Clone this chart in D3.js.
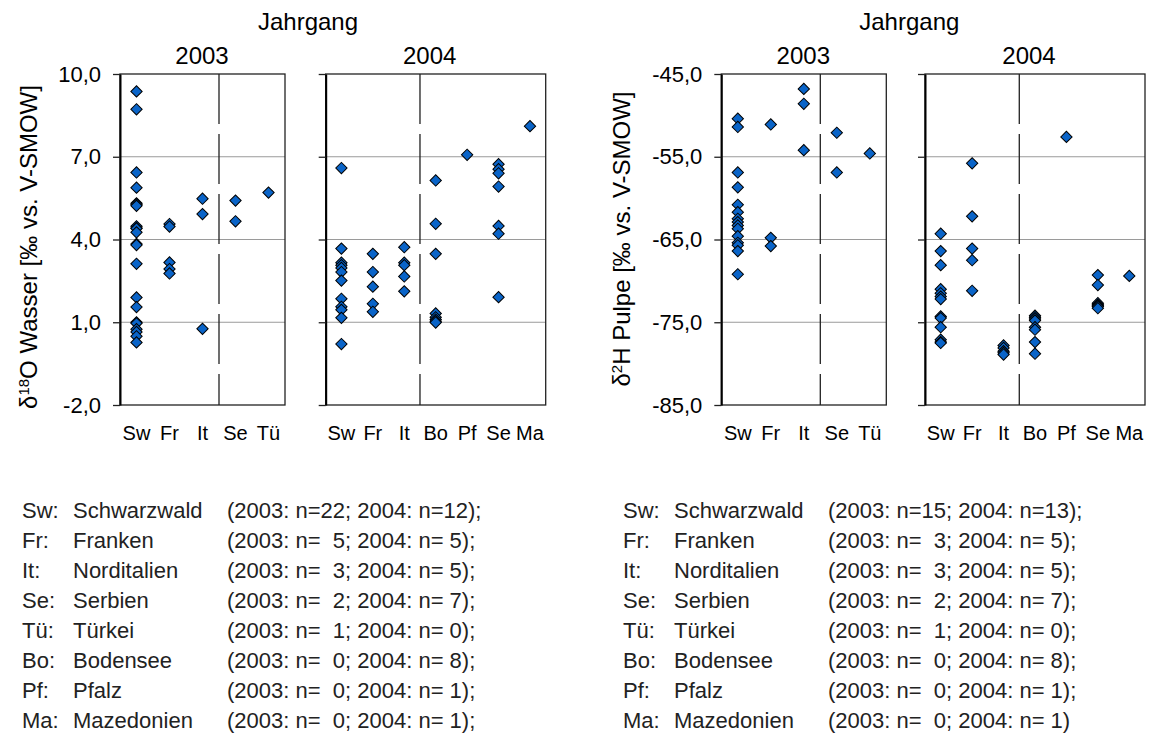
<!DOCTYPE html>
<html>
<head>
<meta charset="utf-8">
<script src="https://cdn.jsdelivr.net/npm/d3@7"></script>
<style>
	body { margin: 0; background: #fff; }
	text { font-family: "Liberation Sans", Arial, sans-serif; fill: #000; }
	.legend text { white-space: pre; fill: #222; font-size: 22px; }
</style>
</head>
<body>
<svg id="chart" width="1157" height="740"></svg>
<script>
// categories per vintage
const cats2003 = ["Sw", "Fr", "It", "Se", "Tü"];
const cats2004 = ["Sw", "Fr", "It", "Bo", "Pf", "Se", "Ma"];

// d18O Wasser, one list per category (order as in cats)
const wasser2003 = [
	[9.37, 8.72, 6.43, 5.88, 5.31, 5.27, 5.22, 4.48, 4.42, 4.40, 4.26, 3.84, 3.80, 3.12, 1.90, 1.55, 1.00, 0.96, 0.75, 0.65, 0.49, 0.27],
	[4.56, 4.47, 3.17, 2.93, 2.77],
	[5.48, 4.92, 0.76],
	[5.41, 4.66],
	[5.70]
];
const wasser2004 = [
	[6.59, 3.67, 3.16, 3.07, 2.97, 2.82, 2.51, 1.85, 1.56, 1.45, 1.16, 0.21],
	[3.48, 2.82, 2.29, 1.67, 1.38],
	[3.72, 3.16, 3.07, 2.66, 2.12],
	[6.14, 4.57, 3.48, 1.32, 1.18, 1.10, 1.04, 0.99],
	[7.07],
	[6.73, 6.55, 6.40, 5.92, 4.49, 4.21, 1.91],
	[8.11]
];

// d2H Pulpe
const pulpe2003 = [
	[-50.4, -51.4, -56.9, -58.7, -60.8, -61.7, -62.5, -62.9, -63.3, -63.7, -64.6, -65.4, -65.7, -66.4, -69.2],
	[-51.1, -64.8, -65.8],
	[-46.8, -48.6, -54.2],
	[-52.1, -56.9],
	[-54.6]
];
const pulpe2004 = [
	[-64.3, -66.4, -68.1, -71.0, -71.5, -71.9, -72.2, -74.3, -74.5, -75.6, -77.1, -77.4, -77.5],
	[-55.8, -62.2, -66.1, -67.5, -71.2],
	[-77.8, -78.1, -78.5, -78.7, -78.9],
	[-74.2, -74.4, -74.6, -74.8, -75.6, -75.9, -77.4, -78.8],
	[-52.6],
	[-69.3, -70.5, -72.7, -72.9, -73.0, -73.1, -73.3],
	[-69.4]
];

const ticksWasser = [-2, 1, 4, 7, 10];
const ticksPulpe = [-85, -75, -65, -55, -45];

// legend
const legCodes = ["Sw:", "Fr:", "It:", "Se:", "Tü:", "Bo:", "Pf:", "Ma:"];
const legNames = ["Schwarzwald", "Franken", "Norditalien", "Serbien", "Türkei", "Bodensee", "Pfalz", "Mazedonien"];
const legWasser = [
	"(2003: n=22; 2004: n=12);", "(2003: n=  5; 2004: n= 5);", "(2003: n=  3; 2004: n= 5);", "(2003: n=  2; 2004: n= 7);",
	"(2003: n=  1; 2004: n= 0);", "(2003: n=  0; 2004: n= 8);", "(2003: n=  0; 2004: n= 1);", "(2003: n=  0; 2004: n= 1);"
];
const legPulpe = [
	"(2003: n=15; 2004: n=13);", "(2003: n=  3; 2004: n= 5);", "(2003: n=  3; 2004: n= 5);", "(2003: n=  2; 2004: n= 7);",
	"(2003: n=  1; 2004: n= 0);", "(2003: n=  0; 2004: n= 8);", "(2003: n=  0; 2004: n= 1);", "(2003: n=  0; 2004: n= 1)"
];

const svg = d3.select("#chart");
const TOP = 74, BOTTOM = 405;
// German decimal comma, plain hyphen for negatives
const fmt = d => d.toFixed(1).replace(".", ",");
const diamond = d3.symbol().type(d3.symbolSquare).size(64);

function drawPanel(g, p, y, ticks, showLabels) {
	const x = d3.scaleBand().domain(p.cats).range([p.x0, p.x1]);

	// grid lines
	g.selectAll(".grid").data(ticks.slice(1, -1)).enter()
		.append("line")
		.attr("x1", p.x0).attr("x2", p.x1)
		.attr("y1", d => y(d)).attr("y2", d => y(d))
		.attr("stroke", "#9a9a9a").attr("stroke-width", 1);

	// frame
	g.append("rect")
		.attr("x", p.x0).attr("y", TOP)
		.attr("width", p.x1 - p.x0).attr("height", BOTTOM - TOP)
		.attr("fill", "none").attr("stroke", "#222").attr("stroke-width", 1.3);

	// dashed separator after "It"
	const xd = x("It") + x.bandwidth();
	g.append("line")
		.attr("x1", xd).attr("x2", xd).attr("y1", TOP).attr("y2", BOTTOM)
		.attr("stroke", "#222").attr("stroke-width", 1.3)
		.attr("stroke-dasharray", "50,10");

	// points
	const pts = [];
	p.vals.forEach((vs, i) => vs.forEach(v => pts.push({cat: p.cats[i], v: v})));
	g.selectAll(".pt").data(pts).enter()
		.append("path")
		.attr("d", diamond)
		.attr("transform", d => `translate(${x(d.cat) + x.bandwidth() / 2},${y(d.v)}) rotate(45)`)
		.attr("fill", "#0a64c8").attr("stroke", "#000").attr("stroke-width", 1);

	// y axis
	const ax = g.append("g").attr("transform", `translate(${p.x0},0)`)
		.call(d3.axisLeft(y).tickValues(ticks).tickSize(7).tickSizeOuter(0).tickPadding(12)
			.tickFormat(showLabels ? fmt : ""));
	ax.select(".domain").attr("stroke", "#000").attr("stroke-width", 2);
	ax.selectAll(".tick line").attr("stroke", "#222").attr("stroke-width", 1.3);
	ax.selectAll(".tick text").style("font-size", "22px");

	// category labels
	g.selectAll(".cat").data(p.cats).enter()
		.append("text")
		.attr("x", d => x(d) + x.bandwidth() / 2)
		.attr("y", 440)
		.attr("text-anchor", "middle")
		.style("font-size", "20px")
		.text(d => d);

	// year label
	g.append("text")
		.attr("x", p.yearX).attr("y", 64)
		.attr("text-anchor", "middle")
		.style("font-size", "24px")
		.text(p.year);
}

function drawChart(c) {
	const g = svg.append("g");
	const y = d3.scaleLinear().domain(c.domain).range([BOTTOM, TOP]);

	drawPanel(g, {cats: cats2003, vals: c.v2003, x0: c.left, x1: c.left + 165, year: "2003", yearX: c.left + 82}, y, c.ticks, true);
	drawPanel(g, {cats: cats2004, vals: c.v2004, x0: c.left2, x1: c.left2 + 220, year: "2004", yearX: c.left2 + 104}, y, c.ticks, false);

	g.append("text")
		.attr("x", c.left + 188).attr("y", 30)
		.attr("text-anchor", "middle")
		.style("font-size", "24px")
		.text("Jahrgang");

	// rotated y label with superscript
	const lab = g.append("text")
		.attr("transform", `translate(${c.labelX},${c.labelY}) rotate(-90)`)
		.attr("text-anchor", "middle")
		.style("font-size", "24px");
	lab.append("tspan").text("δ");
	lab.append("tspan").attr("dy", "-0.55em").style("font-size", "15px").text(c.sup);
	lab.append("tspan").attr("dy", "0.34em").text(c.rest);

	// legend
	const leg = svg.append("g").attr("class", "legend");
	legCodes.forEach((code, i) => {
		const yy = 518 + i * 30;
		leg.append("text").attr("x", c.legX).attr("y", yy).text(code);
		leg.append("text").attr("x", c.legX + 51).attr("y", yy).text(legNames[i]);
		leg.append("text").attr("x", c.legX + 205).attr("y", yy).text(c.leg[i]);
	});
}

drawChart({
	left: 120, left2: 325.7, domain: [-2, 10], ticks: ticksWasser,
	v2003: wasser2003, v2004: wasser2004,
	labelX: 37, labelY: 247, sup: "18", rest: "O Wasser [‰ vs. V-SMOW]",
	legX: 22, leg: legWasser
});

drawChart({
	left: 721.3, left2: 925, domain: [-85, -45], ticks: ticksPulpe,
	v2003: pulpe2003, v2004: pulpe2004,
	labelX: 630, labelY: 239, sup: "2", rest: "H Pulpe [‰ vs. V-SMOW]",
	legX: 623, leg: legPulpe
});
</script>
</body>
</html>
